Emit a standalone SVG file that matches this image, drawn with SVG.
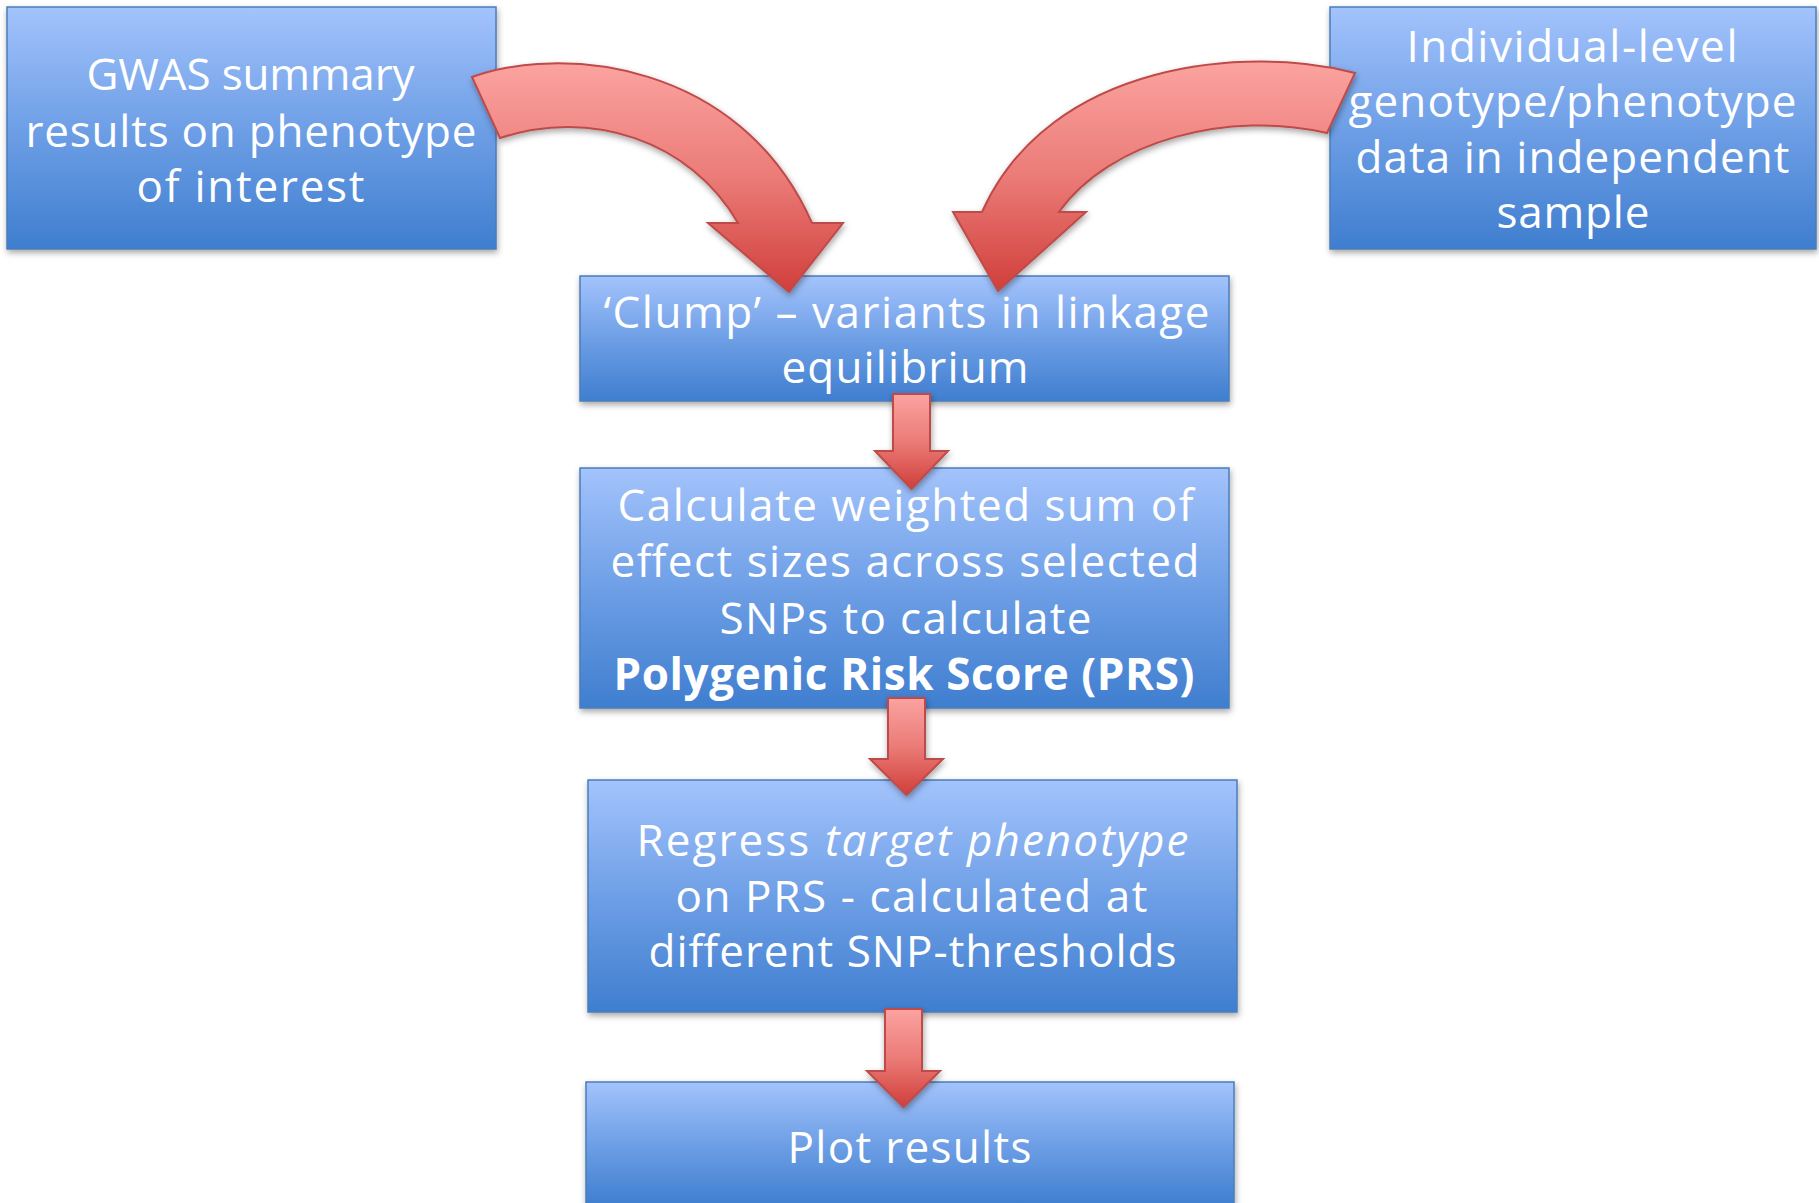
<svg xmlns="http://www.w3.org/2000/svg" width="1819" height="1203" viewBox="0 0 1819 1203">
<defs>
<linearGradient id="boxGrad" x1="0" y1="0" x2="0" y2="1">
<stop offset="0" stop-color="#A3C3FC"/>
<stop offset="0.5" stop-color="#6E9FE6"/>
<stop offset="1" stop-color="#3F7ECF"/>
</linearGradient>
<linearGradient id="arrGrad" x1="0" y1="0" x2="0" y2="1">
<stop offset="0" stop-color="#FBA3A0"/>
<stop offset="0.5" stop-color="#EB7B77"/>
<stop offset="1" stop-color="#D03F3B"/>
</linearGradient>
<filter id="shadow" x="-10%" y="-10%" width="120%" height="130%">
<feDropShadow dx="1" dy="3" stdDeviation="3" flood-color="#000" flood-opacity="0.35"/>
</filter>
</defs>
<style>
.box{fill:url(#boxGrad);stroke:#4A7EBB;stroke-width:1.5;filter:url(#shadow)}
.arr{fill:url(#arrGrad);stroke:#BE4B48;stroke-width:2;stroke-linejoin:miter;filter:url(#shadow)}
.t{font-family:"Open Sans","Noto Sans","DejaVu Sans",sans-serif;font-size:44px;fill:#FFFFFF;text-anchor:middle}
.b{font-weight:bold}
.i{font-style:italic}
</style>
<rect width="1819" height="1203" fill="#FFFFFF"/>
<g id="gwas">
<rect class="box" x="7" y="7" width="489" height="242"/>
<text class="t" x="250.5" y="90" textLength="328" lengthAdjust="spacing">GWAS summary</text>
<text class="t" x="251" y="147" textLength="451" lengthAdjust="spacing">results on phenotype</text>
<text class="t" x="250.5" y="202" textLength="228" lengthAdjust="spacing">of interest</text>
</g>
<g id="individual">
<rect class="box" x="1330" y="7" width="486" height="242"/>
<text class="t" x="1572" y="62" textLength="331" lengthAdjust="spacing">Individual-level</text>
<text class="t" x="1572.5" y="117" textLength="448" lengthAdjust="spacing">genotype/phenotype</text>
<text class="t" x="1572.5" y="173" textLength="434" lengthAdjust="spacing">data in independent</text>
<text class="t" x="1573" y="228" textLength="153" lengthAdjust="spacing">sample</text>
</g>
<g id="clump">
<rect class="box" x="580" y="276" width="649" height="125"/>
<text class="t" x="906.5" y="328" textLength="606" lengthAdjust="spacing">‘Clump’ – variants in linkage</text>
<text class="t" x="905" y="383" textLength="247" lengthAdjust="spacing">equilibrium</text>
</g>
<g id="calculate">
<rect class="box" x="580" y="468" width="649" height="240"/>
<text class="t" x="905.5" y="521" textLength="576" lengthAdjust="spacing">Calculate weighted sum of</text>
<text class="t" x="905" y="577" textLength="589" lengthAdjust="spacing">effect sizes across selected</text>
<text class="t" x="905.5" y="634" textLength="372" lengthAdjust="spacing">SNPs to calculate</text>
<text class="t b" x="904" y="690" textLength="581" lengthAdjust="spacing">Polygenic Risk Score (PRS)</text>
</g>
<g id="regress">
<rect class="box" x="588" y="780" width="649" height="232"/>
<text class="t" x="912.5" y="856" textLength="552" lengthAdjust="spacing">Regress <tspan class="i">target phenotype</tspan></text>
<text class="t" x="911.5" y="912" textLength="472" lengthAdjust="spacing">on PRS - calculated at</text>
<text class="t" x="912.5" y="967" textLength="528" lengthAdjust="spacing">different SNP-thresholds</text>
</g>
<g id="plot">
<rect class="box" x="586" y="1082" width="648" height="124"/>
<text class="t" x="909.5" y="1163" textLength="244" lengthAdjust="spacing">Plot results</text>
</g>
<g id="connectors">
<path class="arr" d="M472,77 C560,45 740,60 812,223 L843,223 L789,292 L708,223 L738,223 C690,140 590,108 500,138 Z"/>
<path class="arr" d="M1355,73 C1250,45 1050,60 982,212 L953,212 L998,291 L1086,212 L1059,212 C1110,140 1230,110 1327,133 Z"/>
<path class="arr" d="M893,394 H930 V451 H948 L911.5,489 L875,451 H893 Z"/>
<path class="arr" d="M888,698 H925 V759 H943 L906.5,795 L870,759 H888 Z"/>
<path class="arr" d="M885,1009 H922 V1071 H940 L903.5,1107 L867,1071 H885 Z"/>
</g>
</svg>
